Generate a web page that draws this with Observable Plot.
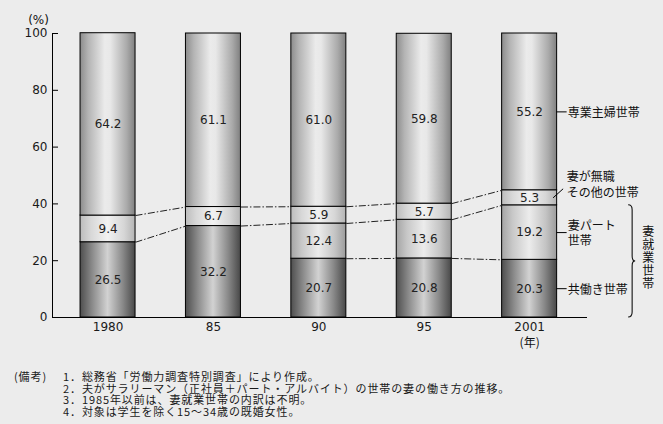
<!DOCTYPE html>
<html><head><meta charset="utf-8">
<script src="https://cdn.jsdelivr.net/npm/d3@7"></script>
<script src="https://cdn.jsdelivr.net/npm/@observablehq/plot@0.6"></script>
<style>
body{margin:0;background:#ececec;}
#wrap{position:relative;width:663px;height:424px;overflow:hidden;background:#ececec;}
.note{position:absolute;font-family:"Noto Sans CJK JP",sans-serif;font-size:11px;line-height:11.5px;letter-spacing:0.9px;color:#1a1a1a;white-space:pre;margin:0;}
</style></head><body><div id="wrap"></div>
<script>
// ---- data ----
const years = ["1980", "85", "90", "95", "2001"];
const housewife    = [64.2, 61.1, 61.0, 59.8, 55.2];   // 専業主婦世帯
const otherNoJob   = [9.4, 6.7, 5.9, 5.7, 5.3];        // 妻が無職その他の世帯
const partTime     = [null, null, 12.4, 13.6, 19.2];   // 妻パート世帯
const dualIncome   = [null, null, 20.7, 20.8, 20.3];   // 共働き世帯
const employedAll  = [26.5, 32.2, null, null, null];   // 妻就業世帯（内訳不明）
const yTicks = [0, 20, 40, 60, 80, 100];
const seriesLabels = {housewife: "専業主婦世帯", other: "妻が無職\nその他の世帯", part: "妻パート\n世帯", dual: "共働き世帯"};
const groupLabel = "妻就業世帯";
const notesHead = "(備考)";
const notes = [
  "1．総務省「労働力調査特別調査」により作成。",
  "2．夫がサラリーマン（正社員＋パート・アルバイト）の世帯の妻の働き方の推移。",
  "3．1985年以前は、妻就業世帯の内訳は不明。",
  "4．対象は学生を除く15～34歳の既婚女性。"
];

// ---- table built from arrays (bottom -> top) ----
const series = [["employed", employedAll], ["dual", dualIncome], ["part", partTime], ["other", otherNoJob], ["housewife", housewife]];
const rows = [];
for (const [s, arr] of series) arr.forEach((v, i) => { if (v != null) rows.push({i, series: s, value: v}); });

const sum = (...a) => a.reduce((t, v) => t + (v ?? 0), 0);
const dualTop = dualIncome;
const empTop = years.map((_, i) => sum(employedAll[i], dualIncome[i], partTime[i]));
const otherTop = years.map((_, i) => empTop[i] + otherNoJob[i]);
const links = [];
for (const b of [dualTop, empTop, otherTop])
  for (let i = 0; i < years.length - 1; i++)
    if (b[i] != null && b[i + 1] != null) links.push({i, v0: b[i], v1: b[i + 1]});

const last = years.length - 1;
const mid = {
  housewife: (otherTop[last] + 100) / 2,
  part: (dualTop[last] + empTop[last]) / 2,
  dual: dualTop[last] / 2,
  other: (empTop[last] + otherTop[last]) / 2
};

// ---- layout ----
const W = 663, H = 350, mL = 52, mR = 76, mT = 33, mB = 33;
const xDom = [-0.527, 4.549];
const pxu = (W - mL - mR) / (xDom[1] - xDom[0]);
const hw = 27.5 / pxu;
const grad = {employed: "url(#gDark)", dual: "url(#gDark)", part: "url(#gPart)", other: "url(#gOther)", housewife: "url(#gTop)"};
const jp = "Noto Sans CJK JP";
const num = "DejaVu Sans";

const brace = (index, scales) => {
  const x0 = scales.x(last) + 103;
  const yT = scales.y(empTop[last]), yB = scales.y(0), yM = (yT + yB) / 2;
  const g = d3.create("svg:g");
  g.append("path")
    .attr("fill", "none").attr("stroke", "#111").attr("stroke-width", 1.1)
    .attr("d", `M${x0-4},${yT} Q${x0},${yT} ${x0},${yT+5} L${x0},${yM-5} Q${x0},${yM} ${x0+3},${yM} Q${x0},${yM} ${x0},${yM+5} L${x0},${yB-5} Q${x0},${yB} ${x0-4},${yB}`);
  g.append("text")
    .attr("x", x0 + 16).attr("y", yM - 3)
    .attr("text-anchor", "middle")
    .style("writing-mode", "vertical-rl")
    .style("letter-spacing", "1px")
    .attr("font-family", jp).attr("font-size", 12).attr("fill", "#111")
    .text(groupLabel);
  return g.node();
};

const plot = Plot.plot({
  width: W, height: H, marginLeft: mL, marginRight: mR, marginTop: mT, marginBottom: mB,
  style: {background: "transparent", fontFamily: num, fontSize: "12px", color: "#1a1a1a"},
  x: {domain: xDom, ticks: years.map((_, i) => i), tickFormat: i => years[i], tickSize: 0, tickPadding: 5, label: null},
  y: {domain: [0, 100], ticks: yTicks, tickSize: 0, tickPadding: 5, label: null},
  color: {type: "identity"},
  marks: [
    Plot.rectY(rows, Plot.stackY({x1: d => d.i - hw, x2: d => d.i + hw, y: "value", fill: d => grad[d.series], stroke: "#000", strokeWidth: 1})),
    Plot.text(rows, Plot.stackY({x: "i", y: "value", text: d => d.value.toFixed(1), fill: "#222", fontFamily: num, fontSize: 12})),
    Plot.link(links, {x1: d => d.i + hw, x2: d => d.i + 1 - hw, y1: "v0", y2: "v1", stroke: "#222", strokeWidth: 1, strokeDasharray: "7,2,1.5,2"}),
    Plot.ruleY([0], {stroke: "#000"}),
    Plot.ruleX([xDom[0]], {stroke: "#000"}),
    Plot.ruleY(yTicks, {x1: xDom[0], x2: xDom[0] + 6 / pxu, stroke: "#000"}),
    Plot.ruleY([mid.housewife, mid.part, mid.dual], {x1: last + hw, x2: last + hw + 10 / pxu, stroke: "#000"}),
    Plot.link([mid.other], {x1: last + hw - 4 / pxu, x2: last + hw + 6 / pxu, y1: d => d, y2: d => d + 9 / 2.84, stroke: "#000"}),
    Plot.text(["housewife", "part", "dual"], {x: last, y: d => mid[d], text: d => seriesLabels[d], dx: 38, textAnchor: "start", fontFamily: jp, fontSize: 12, lineHeight: 1.3, fill: "#111"}),
    Plot.text(["other"], {x: last, y: otherTop[last], text: d => seriesLabels[d], dx: 37, dy: -6, textAnchor: "start", fontFamily: jp, fontSize: 12, lineHeight: 1.3, fill: "#111"}),
    brace,
    Plot.text(["(%)"], {frameAnchor: "top-left", dx: -14, dy: -18, textAnchor: "middle", fontFamily: num, fontSize: 12, fill: "#111"}),
    Plot.text(["(年)"], {x: last, frameAnchor: "bottom", dy: 29, fontFamily: jp, fontSize: 12, fill: "#111"})
  ]
});

const svg = d3.select(plot);
const defs = svg.insert("defs", ":first-child");
function addGrad(id, stops) {
  const g = defs.append("linearGradient").attr("id", id).attr("x1", "0").attr("x2", "1").attr("y1", "0").attr("y2", "0");
  for (const [o, c] of stops) g.append("stop").attr("offset", o).attr("stop-color", c);
}
addGrad("gTop", [[0, "#8c8c8c"], [0.15, "#b4b4b4"], [0.45, "#ebebeb"], [0.55, "#e8e8e8"], [0.85, "#aaaaaa"], [1, "#808080"]]);
addGrad("gOther", [[0, "#bcbcbc"], [0.2, "#d8d8d8"], [0.5, "#f2f2f2"], [0.8, "#d6d6d6"], [1, "#b4b4b4"]]);
addGrad("gPart", [[0, "#a4a4a4"], [0.2, "#c8c8c8"], [0.5, "#ececec"], [0.8, "#c4c4c4"], [1, "#9c9c9c"]]);
addGrad("gDark", [[0, "#4e4e4e"], [0.22, "#8a8a8a"], [0.5, "#d2d2d2"], [0.78, "#888888"], [1, "#484848"]]);

const wrap = document.getElementById("wrap");
wrap.appendChild(plot);
const head = document.createElement("div");
head.className = "note"; head.style.left = "14px"; head.style.top = "371px"; head.textContent = notesHead;
wrap.appendChild(head);
const body = document.createElement("div");
body.className = "note"; body.style.left = "63px"; body.style.top = "371px"; body.textContent = notes.join("\n");
wrap.appendChild(body);
</script>
</body></html>
